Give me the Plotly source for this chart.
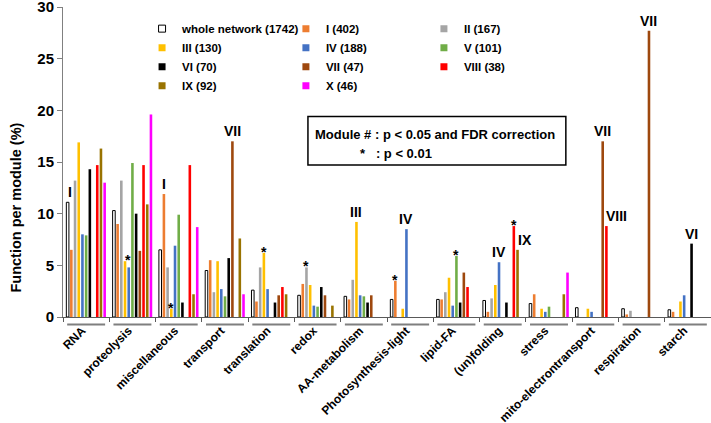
import plotly.graph_objects as go

categories = ["RNA", "proteolysis", "miscellaneous", "transport", "translation", "redox",
              "AA-metabolism", "Photosynthesis-light", "lipid-FA", "(un)folding", "stress",
              "mito-electrontransport", "respiration", "starch"]

whole = [11.1, 10.3, 6.5, 4.5, 2.6, 2.1, 2.0, 1.7, 1.7, 1.6, 1.3, 0.9, 0.8, 0.7]
mod_i = [6.5, 9.0, 11.9, 5.5, 1.5, 3.2, 1.7, 3.5, 1.7, 0.5, 2.2, 0, 0.25, 0.5]
mod_ii = [13.2, 13.2, 4.8, 2.4, 4.8, 4.8, 3.6, 0, 2.4, 1.8, 0, 0, 0.6, 0]
mod_iii = [16.9, 5.4, 0.8, 5.4, 6.2, 3.1, 9.2, 0.8, 3.8, 3.1, 0.8, 0.8, 0, 1.5]
mod_iv = [8.0, 4.8, 6.9, 2.7, 2.7, 1.1, 2.1, 8.5, 1.1, 5.3, 0.5, 0.5, 0, 2.1]
mod_v = [7.9, 14.9, 9.9, 2.0, 0, 1.0, 2.0, 0, 5.9, 0, 1.0, 0, 0, 0]
mod_vi = [14.3, 10.0, 1.4, 5.7, 1.4, 2.9, 1.4, 0, 1.4, 1.4, 0, 0, 0, 7.1]
mod_vii = [0, 6.4, 0, 17.0, 2.1, 2.1, 2.1, 0, 4.3, 0, 0, 17.0, 27.7, 0]
mod_viii = [14.7, 14.7, 14.7, 0, 2.9, 0, 0, 0, 2.9, 8.8, 0, 8.8, 0, 0]
mod_ix = [16.3, 10.9, 2.2, 7.6, 2.2, 1.1, 0, 0, 0, 6.5, 2.2, 0, 0, 0]
mod_x = [13.0, 19.6, 8.7, 2.2, 0, 0, 0, 0, 0, 0, 4.3, 0, 0, 0]

names = ["whole network (1742)", "I (402)", "II (167)", "III (130)", "IV (188)", "V (101)",
         "VI (70)", "VII (47)", "VIII (38)", "IX (92)", "X (46)"]
values = [whole, mod_i, mod_ii, mod_iii, mod_iv, mod_v, mod_vi, mod_vii, mod_viii, mod_ix, mod_x]
colors = ["#ffffff", "#ED7D31", "#A5A5A5", "#FFC000", "#4472C4", "#70AD47",
          "#000000", "#9E480E", "#FF0000", "#997300", "#FF00FF"]
legend_of = ["legend", "legend2", "legend3"] * 4

# significance labels: category, x position in series slots, series giving the height, text
labels = [(0, 0.6, 0, "I"), (1, 3.8, 3, "*"), (2, 1.0, 1, "I"), (2, 3.0, 3, "*"),
          (3, 7.1, 7, "VII"), (4, 3.0, 3, "*"), (5, 2.0, 2, "*"), (6, 3.0, 3, "III"),
          (7, 1.0, 1, "*"), (7, 4.0, 4, "IV"), (8, 5.0, 5, "*"), (9, 4.0, 4, "IV"),
          (9, 8.0, 8, "*"), (9, 10.9, 9, "IX"), (11, 7.0, 7, "VII"), (11, 10.8, 8, "VIII"),
          (12, 7.0, 7, "VII"), (13, 6.0, 6, "VI")]

FONT = "Liberation Sans, Arial"
BARGAP = 0.12
n = len(names)
slot = (1 - BARGAP) / n

fig = go.Figure()
for i in range(n):
    fig.add_trace(go.Bar(
        x=categories, y=values[i], name=names[i], showlegend=False,
        marker=dict(color=colors[i], line=dict(color="#000000", width=1 if i == 0 else 0))))

for i in range(n):
    fig.add_trace(go.Scatter(
        x=[None], y=[None], mode="markers", name=names[i], legend=legend_of[i],
        marker=dict(symbol="square", size=7, color=colors[i],
                    line=dict(color="#000000", width=1 if i == 0 else 0))))

annotations = []
for c, xs, ys, text in labels:
    xpos = c - (1 - BARGAP) / 2 + (xs + 0.5) * slot
    star = text == "*"
    annotations.append(dict(
        x=xpos, y=values[ys][c], xref="x", yref="y", text=text, showarrow=False,
        xanchor="center", yanchor="middle", yshift=1 if star else 10,
        font=dict(family=FONT, size=14, color="#000000", weight="bold")))

annotations.append(dict(
    x=-0.073, y=0.352, xref="paper", yref="paper", text="Function per module (%)",
    textangle=-90, showarrow=False, xanchor="center", yanchor="middle",
    font=dict(family=FONT, size=14.5, color="#000000", weight="bold")))
annotations.append(dict(
    x=0.574, y=0.590, xref="paper", yref="paper", showarrow=False,
    xanchor="center", yanchor="middle",
    text="Module # : p < 0.05 and FDR correction",
    font=dict(family=FONT, size=13, color="#000000", weight="bold")))
annotations.append(dict(
    x=0.455, y=0.529, xref="paper", yref="paper", showarrow=False,
    xanchor="left", yanchor="middle",
    text="*   : p < 0.01",
    font=dict(family=FONT, size=13, color="#000000", weight="bold")))

shapes = [dict(type="rect", xref="paper", yref="paper", x0=0.378, x1=0.776, y0=0.490, y1=0.647,
               line=dict(color="#000000", width=1.5))]
for c in range(len(categories)):
    shapes.append(dict(type="line", xref="x", yref="paper", x0=c - 0.41, x1=c + 0.41,
                       y0=-0.024, y1=-0.024, line=dict(color="#7f7f7f", width=2)))

legend_style = dict(y=0.977, yanchor="top", xanchor="left", bgcolor="rgba(0,0,0,0)",
                    font=dict(family=FONT, size=11.5, color="#000000", weight="bold"))

fig.update_layout(
    width=711, height=423,
    margin=dict(l=63, r=0, t=7, b=106),
    paper_bgcolor="white", plot_bgcolor="white",
    barmode="group", bargap=BARGAP, bargroupgap=0.3,
    font=dict(family=FONT, color="#000000"),
    legend=dict(x=0.122, **legend_style),
    legend2=dict(x=0.344, **legend_style),
    legend3=dict(x=0.557, **legend_style),
    annotations=annotations, shapes=shapes,
    xaxis=dict(type="category", range=[-0.5, len(categories) - 0.5], tickson="boundaries",
               ticks="outside", ticklen=4, tickcolor="#595959", tickangle=-45,
               showline=True, linecolor="#595959", linewidth=1, showgrid=False,
               automargin=False, ticklabelstandoff=1, ticklabelshift=-4,
               tickfont=dict(family=FONT, size=12, color="#000000", weight="bold")),
    yaxis=dict(range=[0, 30], dtick=5, ticks="outside", ticklen=5, tickcolor="#808080",
               showline=True, linecolor="#808080", linewidth=1, showgrid=False, zeroline=False,
               automargin=False, ticklabeloverflow="allow",
               tickfont=dict(family=FONT, size=15, color="#000000", weight="bold")),
)

# page body has a default 8px margin; drop it so the figure sits at the window corner
fig.write_html("out.html", config={"displayModeBar": False},
               post_script="document.body.style.margin='0';")
